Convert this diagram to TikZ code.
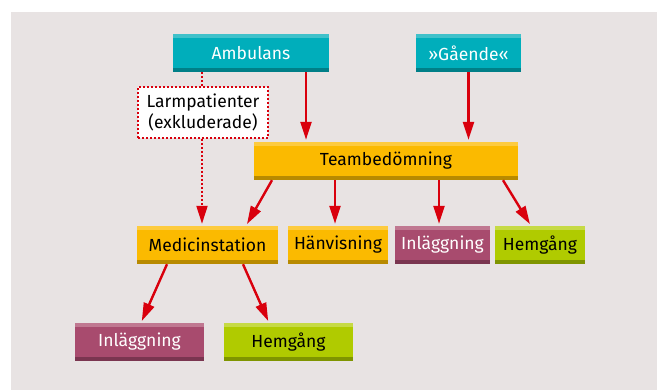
\documentclass[tikz,border=0pt]{standalone}
\usepackage{fontspec}
\setmainfont{Fira Sans}
\usetikzlibrary{arrows.meta}

\definecolor{bg}{HTML}{E8E3E3}
\definecolor{pilrod}{HTML}{D9000D}
\definecolor{tealmid}{HTML}{00AEBB}
\definecolor{teallight}{HTML}{40C1CA}
\definecolor{tealdark}{HTML}{007F88}
\definecolor{orangemid}{HTML}{FBBA00}
\definecolor{orangelight}{HTML}{FDCB3F}
\definecolor{orangedark}{HTML}{B88A00}
\definecolor{mauvemid}{HTML}{A84B6E}
\definecolor{mauvelight}{HTML}{C07891}
\definecolor{mauvedark}{HTML}{7A3550}
\definecolor{greenmid}{HTML}{B0CB00}
\definecolor{greenlight}{HTML}{C6DA45}
\definecolor{greendark}{HTML}{7F9500}

\tikzset{
  stripebox/.style n args={4}{rectangle, inner sep=0pt, minimum height=38pt,
    fill=#1, text=#4, font=\fontsize{17.5}{21}\selectfont,
    path picture={
      \fill[#2] (path picture bounding box.north west) rectangle ([yshift=-4pt]path picture bounding box.north east);
      \fill[#3] (path picture bounding box.south west) rectangle ([yshift=3.5pt]path picture bounding box.south east);
    }},
  tealbox/.style={stripebox={tealmid}{teallight}{tealdark}{white}},
  orangebox/.style={stripebox={orangemid}{orangelight}{orangedark}{black}},
  mauvebox/.style={stripebox={mauvemid}{mauvelight}{mauvedark}{white}},
  greenbox/.style={stripebox={greenmid}{greenlight}{greendark}{black}},
  larmbox/.style={rectangle, draw=pilrod, line width=2pt, dash pattern=on 2pt off 2pt,
    fill=white, minimum width=130pt, minimum height=51pt, align=center,
    font=\fontsize{17.5}{20.5}\selectfont},
  pil/.style={draw=pilrod, line width=2.4pt, shorten >=2pt, -{Triangle[length=18pt, width=11pt]}},
  prickpil/.style={pil, line width=2pt, dash pattern=on 2pt off 2pt}
}

\begin{document}
\begin{tikzpicture}[x=1pt, y=-1pt]
  % Hintergrund
  \useasboundingbox (0,0) rectangle (657,390);
  \fill[bg] (11,12) rectangle (657,390);

  % obere Reihe
  \node[tealbox, minimum width=156pt] (amb) at (251,53) {Ambulans};
  \node[tealbox, minimum width=105pt] (gaa) at (468.5,53) {»Gående«};
  \node[larmbox] (larm) at (203,112.5) {Larmpatienter\\(exkluderade)};

  % Teambedömning
  \node[orangebox, minimum width=264pt] (team) at (386,161) {Teambedömning};

  % mittlere Reihe
  \node[orangebox, minimum width=141pt] (med) at (207.5,245) {Medicinstation};
  \node[orangebox, minimum width=100pt] (hanv) at (338,245) {Hänvisning};
  \node[mauvebox, minimum width=95pt] (inl1) at (442.5,245) {Inläggning};
  \node[greenbox, minimum width=90pt] (hem1) at (540,245) {Hemgång};

  % untere Reihe
  \node[mauvebox, minimum width=129pt] (inl2) at (139.5,342) {Inläggning};
  \node[greenbox, minimum width=129pt] (hem2) at (288.5,342) {Hemgång};

  % Pfeile
  \draw[pil] ([xshift=55pt]amb.south) -- ([xshift=-80pt]team.north);
  \draw[pil] (gaa.south) -- ([xshift=82.5pt]team.north);
  \draw[pil] ([xshift=-114pt]team.south) -- ([xshift=38.5pt]med.north);
  \draw[pil] ([xshift=-51pt]team.south) -- ([xshift=-3pt]hanv.north);
  \draw[pil] ([xshift=53pt]team.south) -- ([xshift=-3.5pt]inl1.north);
  \draw[pil] ([xshift=117pt]team.south) -- ([xshift=-9pt]hem1.north);
  \draw[pil] ([xshift=-40.5pt]med.south) -- ([xshift=1.5pt]inl2.north);
  \draw[pil] ([xshift=35.5pt]med.south) -- ([xshift=-19.5pt]hem2.north);

  % Larmpatienter
  \draw[pilrod, line width=2pt, dash pattern=on 2pt off 2pt] ([xshift=-49pt]amb.south) -- ([xshift=-1pt]larm.north);
  \draw[prickpil] ([xshift=-1pt]larm.south) -- ([xshift=-5.5pt]med.north);
\end{tikzpicture}
\end{document}
